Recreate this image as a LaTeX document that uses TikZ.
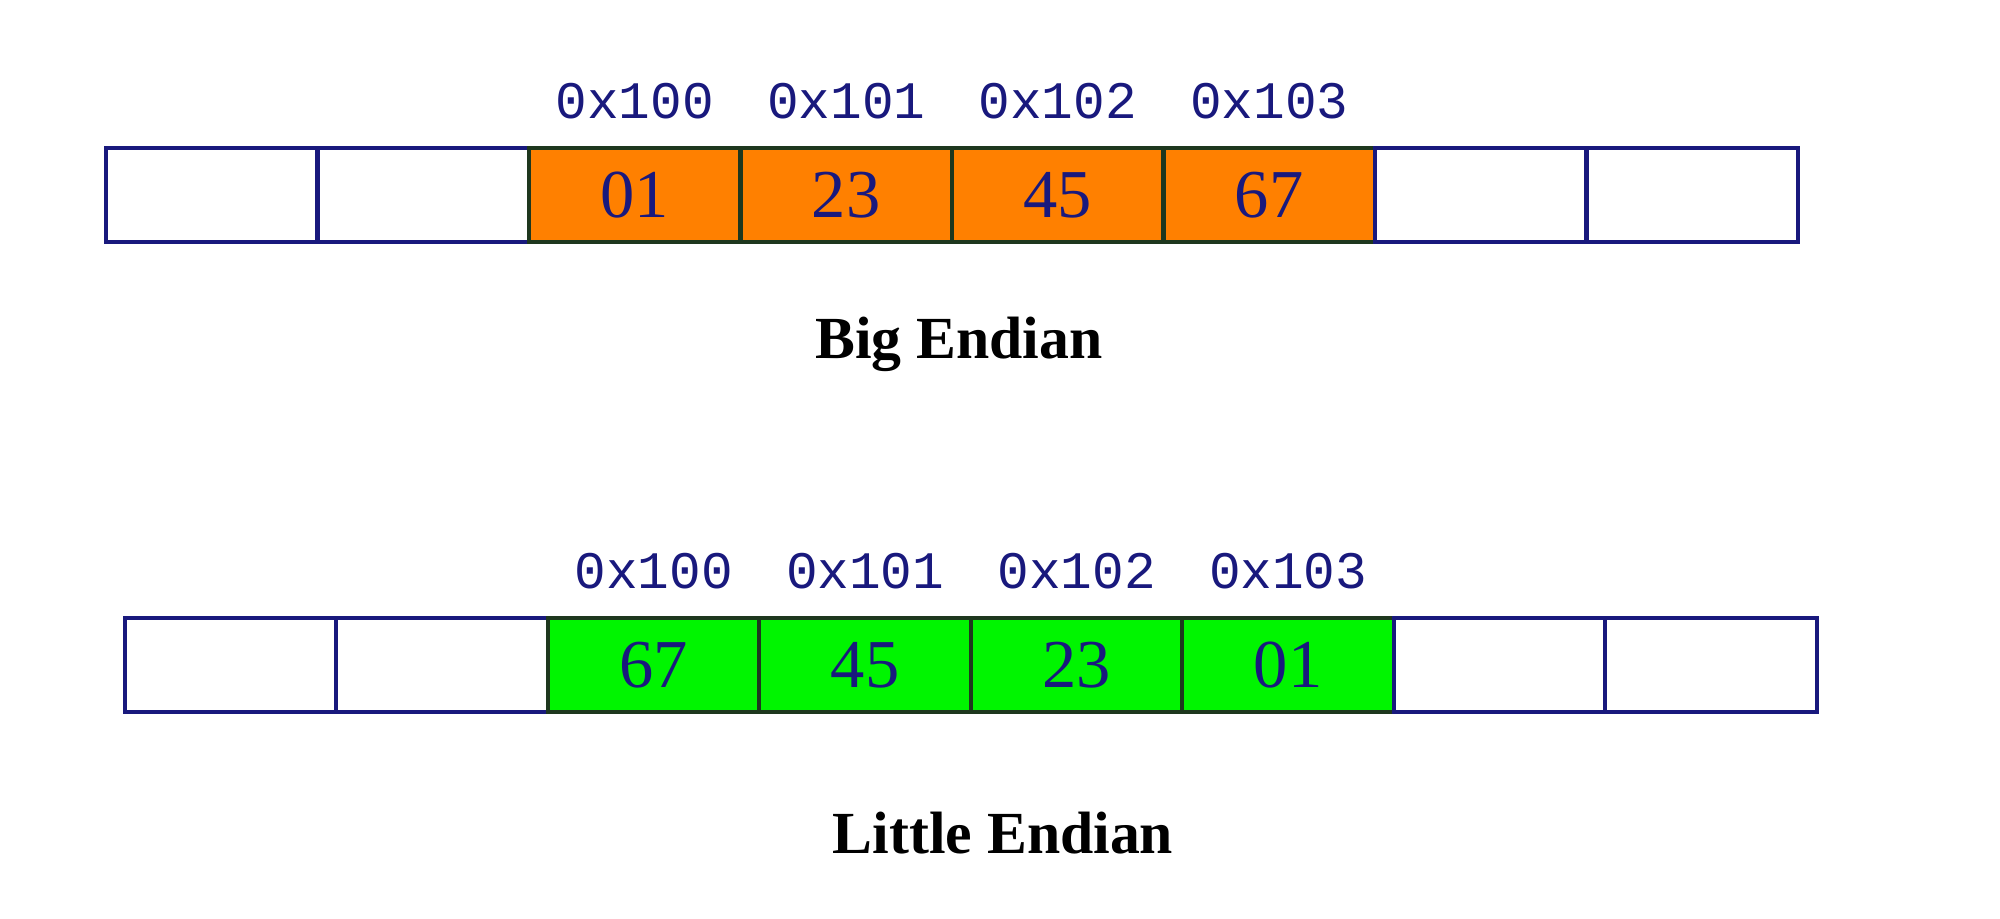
\documentclass[tikz,border=0pt]{standalone}
\usepackage{fontspec}
\setmainfont{Liberation Serif}
\setmonofont{Liberation Mono}
\usetikzlibrary{positioning}
\definecolor{navy}{RGB}{25,25,125}
\definecolor{byteorange}{RGB}{255,128,0}
\definecolor{bytegreen}{RGB}{0,245,0}
\definecolor{darkedge}{RGB}{30,55,30}
\tikzset{
	cell/.style={draw=navy, line width=1.2pt, minimum width=2.115cm, minimum height=0.94cm, inner sep=0pt, outer sep=0pt},
	byte/.style={cell, draw=darkedge, text=navy, font=\fontsize{19.5}{19.5}\selectfont},
	addr/.style={text=navy, font=\ttfamily\fontsize{15}{15}\selectfont},
	caption/.style={font=\bfseries\fontsize{17}{17}\selectfont}
}
\begin{document}
\begin{tikzpicture}
		\useasboundingbox (0,0) rectangle (20,9.19);
		% big endian row
		\node (b1)[cell] at(2.1175,7.24) {};
		\node (b2)[cell, right=0pt of b1] {};
		\node (b3)[byte, fill=byteorange, right=0pt of b2] {01};
		\node (b4)[byte, fill=byteorange, right=0pt of b3] {23};
		\node (b5)[byte, fill=byteorange, right=0pt of b4] {45};
		\node (b6)[byte, fill=byteorange, right=0pt of b5] {67};
		\node (b7)[cell, right=0pt of b6] {};
		\node (b8)[cell, right=0pt of b7] {};
		\node (ba0)[addr, above=0.17cm of b3] {0x100};
		\node (ba1)[addr, above=0.17cm of b4] {0x101};
		\node (ba2)[addr, above=0.17cm of b5] {0x102};
		\node (ba3)[addr, above=0.17cm of b6] {0x103};
		\node (big)[caption] at(9.59,5.75) {Big Endian};
		% little endian row
		\node (l1)[cell] at(2.306,2.54) {};
		\node (l2)[cell, right=0pt of l1] {};
		\node (l3)[byte, fill=bytegreen, right=0pt of l2] {67};
		\node (l4)[byte, fill=bytegreen, right=0pt of l3] {45};
		\node (l5)[byte, fill=bytegreen, right=0pt of l4] {23};
		\node (l6)[byte, fill=bytegreen, right=0pt of l5] {01};
		\node (l7)[cell, right=0pt of l6] {};
		\node (l8)[cell, right=0pt of l7] {};
		\node (la0)[addr, above=0.17cm of l3] {0x100};
		\node (la1)[addr, above=0.17cm of l4] {0x101};
		\node (la2)[addr, above=0.17cm of l5] {0x102};
		\node (la3)[addr, above=0.17cm of l6] {0x103};
		\node (little)[caption] at(10.03,0.86) {Little Endian};
	\end{tikzpicture}
\end{document}
